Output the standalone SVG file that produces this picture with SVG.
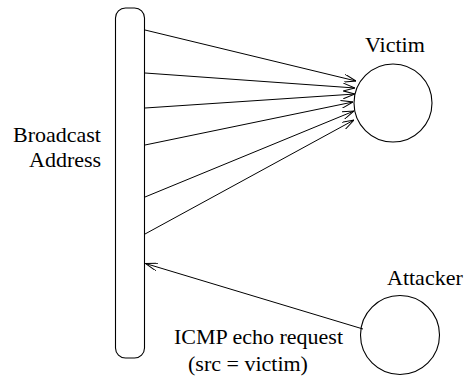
<svg xmlns="http://www.w3.org/2000/svg" width="468" height="378" viewBox="0 0 468 378">
  <style>
    .shape { fill: #ffffff; stroke: #000000; stroke-width: 1.1; }
    .link { fill: none; stroke: #000000; stroke-width: 1; }
    .label { font-family: 'Liberation Serif', 'Times New Roman', Times, 'DejaVu Serif', serif; font-size: 22px; fill: #000000; }
  </style>
  <defs>
    <marker id="arrow" viewBox="0 0 12 8" refX="12" refY="4" markerWidth="12" markerHeight="8" markerUnits="userSpaceOnUse" orient="auto">
      <path d="M0,0 L12,4 L0,8" fill="none" stroke="#000000" stroke-width="1"/>
    </marker>
  </defs>

  <rect width="468" height="378" fill="#ffffff"/>

  <g id="broadcast">
    <rect class="shape" x="115.5" y="8" width="29" height="350" rx="10" ry="10"/>
    <text class="label" x="13" y="142" font-family="Liberation Serif, serif">Broadcast</text>
    <text class="label" x="29" y="167" font-family="Liberation Serif, serif">Address</text>
  </g>

  <g id="victim">
    <circle class="shape" cx="393" cy="103" r="39"/>
    <text class="label" x="365" y="52" font-family="Liberation Serif, serif">Victim</text>
  </g>

  <g id="attacker">
    <circle class="shape" cx="400" cy="335" r="39.5"/>
    <text class="label" x="387" y="285" font-family="Liberation Serif, serif">Attacker</text>
  </g>

  <g id="connectors">
    <line class="link" x1="145" y1="30" x2="356" y2="81" marker-end="url(#arrow)"/>
    <line class="link" x1="145" y1="73" x2="355" y2="88" marker-end="url(#arrow)"/>
    <line class="link" x1="145" y1="108" x2="355" y2="94" marker-end="url(#arrow)"/>
    <line class="link" x1="145" y1="145" x2="353" y2="102" marker-end="url(#arrow)"/>
    <line class="link" x1="145" y1="197" x2="354" y2="111" marker-end="url(#arrow)"/>
    <line class="link" x1="145" y1="234" x2="354" y2="120" marker-end="url(#arrow)"/>
    <line class="link" x1="363" y1="329" x2="145.5" y2="263.5" marker-end="url(#arrow)"/>
    <text class="label" x="174" y="344" font-family="Liberation Serif, serif">ICMP echo request</text>
    <text class="label" x="188" y="371" font-family="Liberation Serif, serif">(src = victim)</text>
  </g>
</svg>
